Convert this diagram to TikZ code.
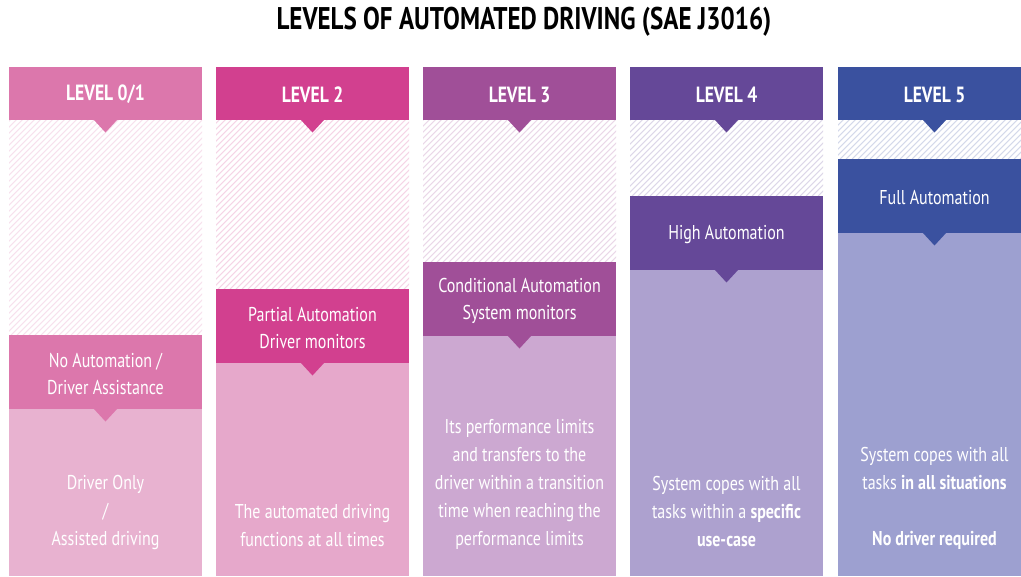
\documentclass[tikz,border=0pt]{standalone}
\usepackage{fontspec}
\newfontfamily\cf{PT Sans}[FakeStretch=0.80]
\definecolor{ca}{HTML}{DC77AC}\definecolor{cab}{HTML}{E8B2D0}
\definecolor{cb}{HTML}{D2408F}\definecolor{cbb}{HTML}{E6A8CB}
\definecolor{cc}{HTML}{A04F98}\definecolor{ccb}{HTML}{CCA8D1}
\definecolor{cd}{HTML}{654898}\definecolor{cdb}{HTML}{ADA1CF}
\definecolor{ce}{HTML}{3A519F}\definecolor{ceb}{HTML}{9DA0D0}
\tikzset{
  htext/.style={font=\cf\bfseries\fontsize{16.5}{19}\selectfont, text=white, inner sep=0pt},
  ltext/.style={font=\cf\fontsize{15}{20.5}\selectfont, text=white, align=center, inner sep=0pt},
  btext/.style={font=\cf\fontsize{15}{21}\selectfont, text=white, align=center, inner sep=0pt},
  titletext/.style={font=\cf\bfseries\fontsize{23.5}{26}\selectfont, text=black, inner sep=0pt}
}
\newcommand\levelcol[9]{%
  \begin{scope}
    \clip (#2,120) rectangle ++(193,#3-120);
    \foreach \k in {0,...,70} {\draw[#4!22!white, line width=0.8pt] ({#2-220+\k*6},#3) -- ++(240,-240);}
  \end{scope}
  \fill[#5] (#2,#3+74) rectangle (#2+193,576);
  \fill[#4] (#2,67) rectangle (#2+193,120);
  \fill[#4] (#2+84.5,119.5) -- (#2+96.5,132.5) -- (#2+108.5,119.5) -- cycle;
  \fill[#4] (#2,#3) rectangle (#2+193,#3+74);
  \fill[#4] (#2+84.5,#3+73.5) -- (#2+96.5,#3+86.5) -- (#2+108.5,#3+73.5) -- cycle;
  \node[htext] (h#1) at (#2+96.5,94.5) {#6};
  \node[ltext] (l#1) at (#2+96.5,#3+39) {#7};
  \node[btext] (b#1) at (#2+96.5,#9) {#8};
}
\begin{document}
\begin{tikzpicture}[x=0.75pt,y=-0.75pt]
\useasboundingbox (0,0) rectangle (1021,576);
\clip (0,0) rectangle (1021,576);
\node[titletext] (title) at (524,22) {LEVELS OF AUTOMATED DRIVING (SAE J3016)};
\levelcol{1}{9}{335}{ca}{cab}{LEVEL 0/1}{No Automation /\\Driver Assistance}{Driver Only\\/\\Assisted driving}{512}
\levelcol{2}{216}{289}{cb}{cbb}{LEVEL 2}{Partial Automation\\Driver monitors}{The automated driving\\functions at all times}{526}
\levelcol{3}{423}{262}{cc}{ccb}{LEVEL 3}{Conditional Automation\\System monitors}{Its performance limits\\and transfers to the\\driver within a transition\\time when reaching the\\performance limits}{484}
\levelcol{4}{630}{196}{cd}{cdb}{LEVEL 4}{High Automation}{System copes with all\\tasks within a \textbf{specific}\\\textbf{use-case}}{512}
\levelcol{5}{838}{159}{ce}{ceb}{LEVEL 5}{Full Automation}{System copes with all\\tasks \textbf{in all situations}\\[21pt]\textbf{No driver required}}{498}
\end{tikzpicture}
\end{document}
